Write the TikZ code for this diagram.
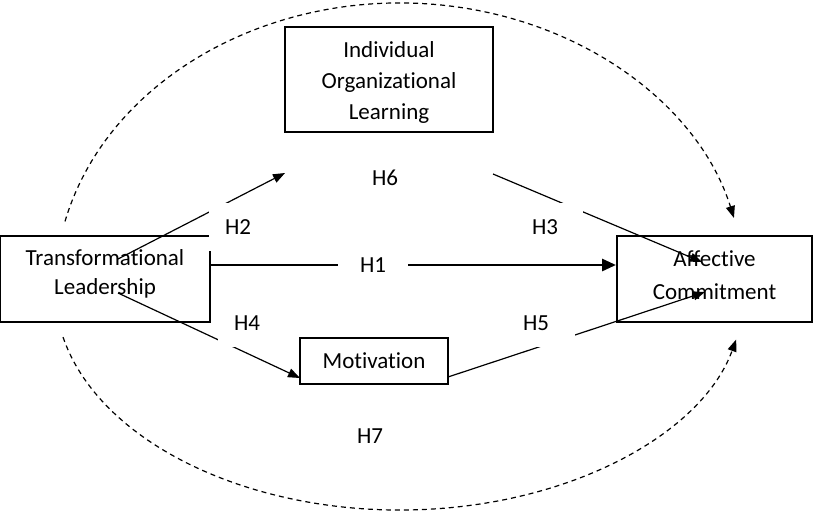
\documentclass[tikz,border=0pt]{standalone}
\usepackage{fontspec}
\setmainfont[Ligatures=NoCommon]{Carlito}
\usetikzlibrary{arrows.meta}
\begin{document}
\begin{tikzpicture}[x=1pt,y=-1pt,
  box/.style={draw, line width=1.6pt, inner sep=0pt},
  txt/.style={align=center, inner sep=0pt, font=\fontsize{23}{31}\selectfont},
  lab/.style={fill=white, inner sep=0pt, font=\fontsize{23}{25}\selectfont},
  conn/.style={line width=1.2pt, -{Triangle[length=12pt,width=9pt]}},
  thickconn/.style={line width=2.8pt, -{Triangle[length=14pt,width=12pt]}},
  dasharc/.style={line width=1.2pt, dash pattern=on 5pt off 4pt, -{Triangle[length=12pt,width=9pt]}}
]
\useasboundingbox (0,0) rectangle (813,514);
% boxes
\node[box, minimum width=210, minimum height=86] (tl) at (105,279) {};
\node[txt] (tlt) at (105,274) {Transformational\\[-2pt]Leadership};
\node[box, minimum width=208, minimum height=105] (iol) at (389,79.5) {};
\node[txt] (iolt) at (389,82) {Individual\\Organizational\\Learning};
\node[box, minimum width=148, minimum height=46] (mot) at (374,361) {};
\node[txt] (mott) at (374,361) {Motivation};
\node[box, minimum width=195, minimum height=86] (ac) at (714.5,279) {};
\node[txt] (act) at (714.5,275) {Affective\\[2pt]Commitment};
% connector end points
\coordinate (h2s) at (118,259);
\coordinate (h2e) at (285,173);
\coordinate (h3s) at (493,174);
\coordinate (h3e) at (702,262);
\coordinate (h1s) at (211,265);
\coordinate (h1e) at (616,265);
\coordinate (h4s) at (118,293);
\coordinate (h4e) at (300,378);
\coordinate (h5s) at (448,377);
\coordinate (h5e) at (705,292);
% connectors
\draw[conn] (h2s) -- (h2e);
\draw[conn] (h3s) -- (h3e);
\draw[thickconn] (h1s) -- (h1e);
\draw[conn] (h4s) -- (h4e);
\draw[conn] (h5s) -- (h5e);
% dashed arcs
\coordinate (arcc) at (400,290);
\draw[dasharc] (arcc) ++(193.84:345 and 287) arc[start angle=193.84, end angle=345.47, x radius=345, y radius=287];
\draw[dasharc] (arcc) ++(167.63:345 and 220) arc[start angle=167.63, end angle=13.0, x radius=345, y radius=220];
% labels
\node[lab, minimum width=58, minimum height=48] (lh2) at (238,227) {H2};
\node[lab, minimum width=76, minimum height=48] (lh3) at (545,227) {H3};
\node[lab, minimum width=70, minimum height=30] (lh1) at (373,265) {H1};
\node[lab, minimum width=58, minimum height=48] (lh4) at (247,323) {H4};
\node[lab, minimum width=78, minimum height=48] (lh5) at (536,323) {H5};
\node[lab] (lh6) at (385,178) {H6};
\node[lab] (lh7) at (370,436) {H7};
\end{tikzpicture}
\end{document}
